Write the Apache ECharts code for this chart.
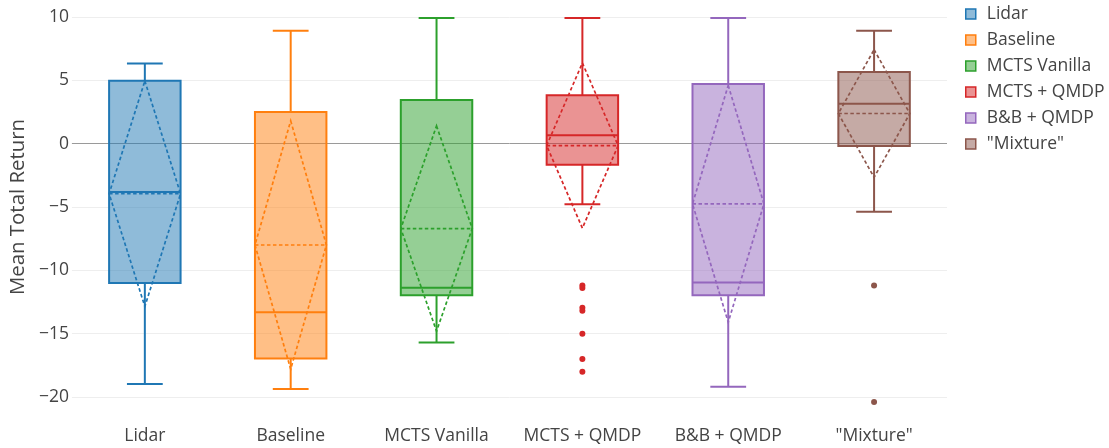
<!DOCTYPE html>
<html>
<head>
<meta charset="utf-8">
<script src="https://cdn.jsdelivr.net/npm/echarts@6/dist/echarts.min.js"></script>
<style>
  html, body { margin: 0; padding: 0; background: #fff; }
  #chart { width: 1109px; height: 448px; }
</style>
</head>
<body>
<div id="chart"></div>
<script>
// ---- data ----
const categories = ['Lidar', 'Baseline', 'MCTS Vanilla', 'MCTS + QMDP', 'B&B + QMDP', '"Mixture"'];
const lowerWhisker = [-18.97, -19.37, -15.69, -4.79, -19.2, -5.37];
const q1 = [-11.0, -16.97, -11.97, -1.66, -11.97, -0.18];
const median = [-3.82, -13.3, -11.37, 0.66, -10.97, 3.16];
const q3 = [4.97, 2.5, 3.45, 3.82, 4.71, 5.66];
const upperWhisker = [6.32, 8.92, 9.92, 9.92, 9.92, 8.92];
const means = [-3.95, -8.0, -6.7, -0.15, -4.75, 2.38];
const sds = [8.9, 9.8, 8.1, 6.52, 9.35, 5.04];
const outliers = [
  [],
  [],
  [],
  [-11.2, -11.4, -12.95, -13.2, -15.0, -17.0, -18.0],
  [],
  [-11.2, -20.4]
];
const yTicks = [-20, -15, -10, -5, 0, 5, 10];

// ---- styles ----
const colors = ['#1f77b4', '#ff7f0e', '#2ca02c', '#d62728', '#9467bd', '#8c564b'];
function hexToRgba(hex, a) {
  const n = parseInt(hex.slice(1), 16);
  return 'rgba(' + ((n >> 16) & 255) + ',' + ((n >> 8) & 255) + ',' + (n & 255) + ',' + a + ')';
}
const FONT = 'Open Sans';
const TXT = '#444';

function makeRender(color) {
  const fill = hexToRgba(color, 0.5);
  return function (params, api) {
    const xi = api.value(0);
    const pt = v => api.coord([xi, v]);
    const band = api.size([1, 0])[0];
    const hw = band * 0.245;
    const cw = band * 0.1227;
    const cx = pt(0)[0];
    const yMin = pt(api.value(1))[1];
    const yQ1 = pt(api.value(2))[1];
    const yMed = pt(api.value(3))[1];
    const yQ3 = pt(api.value(4))[1];
    const yMax = pt(api.value(5))[1];
    const m = api.value(6), s = api.value(7);
    const yMean = pt(m)[1];
    const yHi = pt(m + s)[1];
    const yLo = pt(m - s)[1];
    const solid = { stroke: color, lineWidth: 2, fill: null };
    const dashed = { stroke: color, lineWidth: 1.7, lineDash: [3.5, 2.5], fill: null };
    return {
      type: 'group',
      children: [
        { type: 'rect', shape: { x: cx - hw, y: yQ3, width: 2 * hw, height: yQ1 - yQ3 },
          style: { fill: fill, stroke: color, lineWidth: 2 } },
        { type: 'line', shape: { x1: cx, y1: yQ3, x2: cx, y2: yMax }, style: solid },
        { type: 'line', shape: { x1: cx, y1: yQ1, x2: cx, y2: yMin }, style: solid },
        { type: 'line', shape: { x1: cx - cw, y1: yMax, x2: cx + cw, y2: yMax }, style: solid },
        { type: 'line', shape: { x1: cx - cw, y1: yMin, x2: cx + cw, y2: yMin }, style: solid },
        { type: 'line', shape: { x1: cx - hw, y1: yMed, x2: cx + hw, y2: yMed }, style: solid },
        { type: 'line', shape: { x1: cx - hw, y1: yMean, x2: cx + hw, y2: yMean }, style: dashed },
        { type: 'polygon', shape: { points: [[cx, yHi], [cx + hw, yMean], [cx, yLo], [cx - hw, yMean]] },
          style: dashed }
      ]
    };
  };
}

const series = [];
categories.forEach((c, i) => {
  series.push({
    name: c,
    type: 'custom',
    renderItem: makeRender(colors[i]),
    itemStyle: { color: colors[i] },
    encode: { x: 0, y: [1, 2, 3, 4, 5] },
    clip: false,
    silent: true,
    data: [[i, lowerWhisker[i], q1[i], median[i], q3[i], upperWhisker[i], means[i], sds[i]]],
    z: 2
  });
});
categories.forEach((c, i) => {
  if (!outliers[i].length) return;
  series.push({
    name: c,
    type: 'scatter',
    symbol: 'circle',
    symbolSize: 6,
    clip: false,
    silent: true,
    itemStyle: { color: colors[i], opacity: 1 },
    data: outliers[i].map(v => [i, v]),
    z: 3
  });
});

const gridColors = yTicks.map(t => t === 0 ? '#9a9a9a' : '#eeeeee');

const option = {
  animation: false,
  backgroundColor: '#fff',
  textStyle: { fontFamily: FONT, color: TXT },
  grid: { left: 67, right: 162, top: 17, bottom: 51, containLabel: false },
  xAxis: {
    type: 'category',
    data: categories,
    boundaryGap: true,
    axisLine: { show: false },
    axisTick: { show: false },
    splitLine: { show: false },
    axisLabel: { fontFamily: FONT, fontSize: 17.5, color: TXT, margin: 30, interval: 0 }
  },
  yAxis: {
    type: 'value',
    min: -20,
    max: 10,
    interval: 5,
    name: 'Mean Total Return',
    nameLocation: 'middle',
    nameGap: 37,
    nameTextStyle: { fontFamily: FONT, fontSize: 20.4, color: TXT, padding: [0, 0, 0, 0] },
    axisLine: { show: false },
    axisTick: { show: false },
    axisLabel: {
      fontFamily: FONT, fontSize: 17.5, color: TXT, margin: 3,
      formatter: v => String(v).replace('-', '\u2212')
    },
    splitLine: { show: true, lineStyle: { color: gridColors, width: 1 } }
  },
  legend: {
    orient: 'vertical',
    left: 960,
    top: 0,
    padding: 5,
    itemWidth: 10,
    itemHeight: 10,
    itemGap: 8,
    icon: 'rect',
    selectedMode: false,
    textStyle: { fontFamily: FONT, fontSize: 17.5, color: TXT, padding: [0, 0, 0, 6] },
    data: categories.map((c, i) => ({
      name: c,
      icon: 'rect',
      itemStyle: { color: hexToRgba(colors[i], 0.5), borderColor: colors[i], borderWidth: 1.5 }
    }))
  },
  series: series
};

const chart = echarts.init(document.getElementById('chart'), null, { renderer: 'canvas' });
chart.setOption(option);
</script>
</body>
</html>
